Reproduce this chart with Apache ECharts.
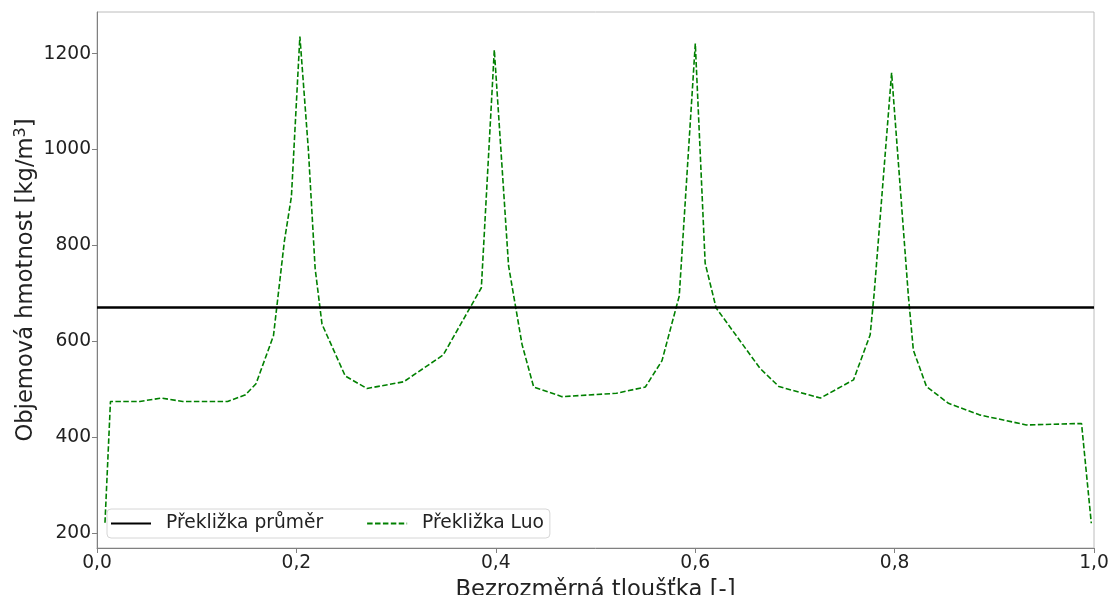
<!DOCTYPE html>
<html>
<head>
<meta charset="utf-8">
<title>Objemová hmotnost překližky</title>
<script src="https://cdn.jsdelivr.net/npm/echarts@6/dist/echarts.min.js"></script>
<style>
  html, body { margin: 0; padding: 0; background: #fff; }
  #chart { width: 1113px; height: 595px; }
</style>
</head>
<body>
<div id="chart"></div>
<script>
// Dimensionless thickness positions of the Luo density profile
const thickness = [0.008, 0.0135, 0.043, 0.0645, 0.086, 0.131, 0.149, 0.1595, 0.177, 0.188,
  0.195, 0.2035, 0.212, 0.2188, 0.2257, 0.249, 0.2708, 0.3076, 0.3473, 0.3855,
  0.3985, 0.4128, 0.4263, 0.438, 0.4664, 0.521, 0.55, 0.5667, 0.584, 0.6001,
  0.610, 0.621, 0.665, 0.684, 0.7256, 0.7588, 0.7755, 0.7795, 0.797, 0.8139,
  0.8188, 0.832, 0.854, 0.885, 0.932, 0.9875, 0.9973];
// Bulk density [kg/m3] along the thickness (Luo model)
const densityLuo = [222, 475, 475, 482, 475, 475, 489, 512, 612, 810,
  902, 1236, 1000, 752, 636, 528, 502, 516, 572, 712,
  1208, 758, 594, 505, 485, 492, 505, 560, 695, 1221,
  763, 670, 544, 506, 482, 520, 614, 700, 1160, 693,
  582, 506, 471, 447, 426, 429, 221];
// Mean plywood density [kg/m3]
const meanDensity = 671;
const meanSpan = [0, 1];
// Axis tick values
const xTicks = [0, 0.2, 0.4, 0.6, 0.8, 1.0];
const yTicks = [200, 400, 600, 800, 1000, 1200];

const FONT = 'DejaVu Sans';
const TEXT = '#222';

const chart = echarts.init(document.getElementById('chart'), null, { renderer: 'canvas' });

chart.setOption({
  animation: false,
  backgroundColor: '#fff',
  grid: {
    left: 97, right: 19, top: 12, bottom: 47,
    containLabel: false,
    outerBoundsMode: 'none',
    show: true, borderColor: '#bcbcbc', borderWidth: 1, backgroundColor: 'transparent'
  },
  legend: {
    left: 107, top: 509,
    orient: 'horizontal',
    itemWidth: 40, itemHeight: 14, itemGap: 43,
    padding: [5, 6, 5, 3],
    backgroundColor: 'rgba(255,255,255,0.8)',
    borderColor: '#d6d6d6', borderWidth: 1, borderRadius: 4,
    itemStyle: { opacity: 0 },
    textStyle: { fontFamily: FONT, fontSize: 18.67, color: TEXT, padding: [0, 0, 0, 10] },
    data: ['Překližka průměr', 'Překližka Luo']
  },
  xAxis: {
    type: 'value',
    min: 0, max: 1, interval: 0.2,
    name: 'Bezrozměrná tloušťka [-]',
    nameLocation: 'middle',
    nameGap: 31,
    nameMoveOverlap: false,
    nameTextStyle: { fontFamily: FONT, fontSize: 22.67, color: TEXT },
    axisLine: { show: true, lineStyle: { color: '#808080', width: 1 } },
    axisTick: { show: true, length: 5, inside: false, lineStyle: { color: '#808080' }, customValues: xTicks },
    axisLabel: {
      fontFamily: FONT, fontSize: 18.67, color: TEXT, margin: 6,
      customValues: xTicks,
      formatter: v => v.toFixed(1).replace('.', ',')
    },
    splitLine: { show: false }
  },
  yAxis: {
    type: 'value',
    min: 169.4, max: 1287,
    name: '{t|Objemová hmotnost [kg/m}{s|3}{t|]}',
    nameLocation: 'middle',
    nameGap: 57,
    nameMoveOverlap: false,
    nameRotate: 90,
    nameTextStyle: {
      fontFamily: FONT, fontSize: 22.67, color: TEXT,
      rich: {
        t: { fontFamily: FONT, fontSize: 22.67, color: TEXT, lineHeight: 28 },
        s: { fontFamily: FONT, fontSize: 16, color: TEXT, lineHeight: 28, padding: [0, 0, 10, 0] }
      }
    },
    axisLine: { show: true, lineStyle: { color: '#808080', width: 1 } },
    axisTick: { show: true, length: 5, inside: false, lineStyle: { color: '#808080' }, customValues: yTicks },
    axisLabel: {
      fontFamily: FONT, fontSize: 18.67, color: TEXT, margin: 6,
      customValues: yTicks,
      formatter: v => String(Math.round(v))
    },
    splitLine: { show: false }
  },
  series: [
    {
      name: 'Překližka průměr',
      type: 'line',
      symbol: 'none',
      data: meanSpan.map(x => [x, meanDensity]),
      lineStyle: { color: '#000', width: 2.5, type: 'solid' },
      itemStyle: { color: '#000' },
      z: 3
    },
    {
      name: 'Překližka Luo',
      type: 'line',
      symbol: 'none',
      data: thickness.map((x, i) => [x, densityLuo[i]]),
      lineStyle: { color: '#008000', width: 1.6, type: [5.5, 2.4] },
      itemStyle: { color: '#008000' },
      z: 2
    }
  ]
});
</script>
</body>
</html>
